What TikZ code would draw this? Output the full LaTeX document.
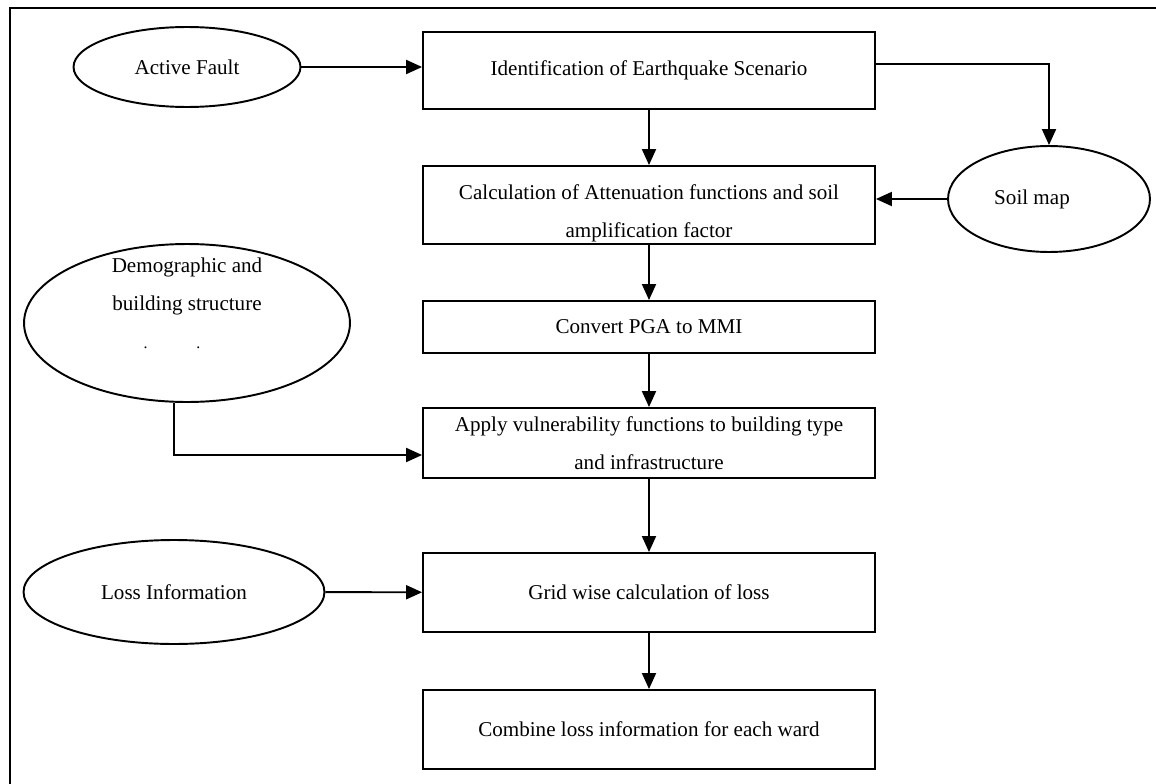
\documentclass[tikz,border=0pt]{standalone}
\usepackage{fontspec}
\setmainfont{Liberation Serif}
\usetikzlibrary{arrows.meta,positioning,shapes.geometric}
\tikzset{%
	process/.style = {draw, rectangle, minimum width=9.04cm, minimum height=1.54cm, text centered, align=center, inner sep=0pt},
	datasrc/.style = {draw, ellipse, inner sep=0pt, align=center},
	arrow/.style   = {-{Triangle[length=0.32cm,width=0.28cm]}},
}
\begin{document}
\begin{tikzpicture}[x=0.02cm, y=-0.02cm, line width=1.1pt, font=\fontsize{12}{21.6}\selectfont]
		\useasboundingbox (0,0) rectangle (1156,784);
		\draw[line width=1.3pt] (10,790) -- (10,8) -- (1160,8);
		
		\node[process] (scen) at (649,70.5) {Identification of Earthquake Scenario};
		\node[process, minimum height=1.56cm] (atten) at (649,205) {};
		\node[align=center] (attentext) at (649,213) {Calculation of Attenuation functions and soil\\amplification factor};
		\node[process, minimum height=1.04cm] (mmi) at (649,327) {Convert PGA to MMI};
		\node[process, minimum height=1.4cm] (vuln) at (649,443) {Apply vulnerability functions to building type\\and infrastructure};
		\node[process, minimum height=1.58cm] (grid) at (649,592.5) {Grid wise calculation of loss};
		\node[process, minimum height=1.58cm] (ward) at (649,729.5) {Combine loss information for each ward};
		
		\node[datasrc, minimum width=4.54cm, minimum height=1.6cm] (fault) at (187,67) {Active Fault};
		\node[datasrc, minimum width=4.04cm, minimum height=2.12cm] (soil) at (1049,199) {Soil map\hspace{0.68cm}};
		\node[datasrc, minimum width=6.52cm, minimum height=3.16cm] (demo) at (187,323) {};
		\node[align=center] (demotext) at (187,303) {Demographic and\\building structure\\{\small\mbox{.\hspace{27.8pt}.\hspace{17pt}}}};
		\node[datasrc, minimum width=6.02cm, minimum height=2.08cm] (loss) at (174,592) {Loss Information};
		
		\draw[arrow] (fault) -- (fault -| scen.west);
		\draw[arrow] ([yshift=0.13cm]scen.east) -| (soil.north);
		\draw[arrow] (scen) -- (atten);
		\draw[arrow] (soil.west) -- (soil.west -| atten.east);
		\draw[arrow] (atten) -- (mmi);
		\draw[arrow] (mmi) -- (vuln);
		\draw[arrow] ([xshift=-0.26cm]demo.south) |- ([yshift=-0.24cm]vuln.west);
		\draw[arrow] (vuln) -- (grid);
		\draw[arrow] (loss) -- (grid);
		\draw[arrow] (grid) -- (ward);
\end{tikzpicture}
\end{document}
